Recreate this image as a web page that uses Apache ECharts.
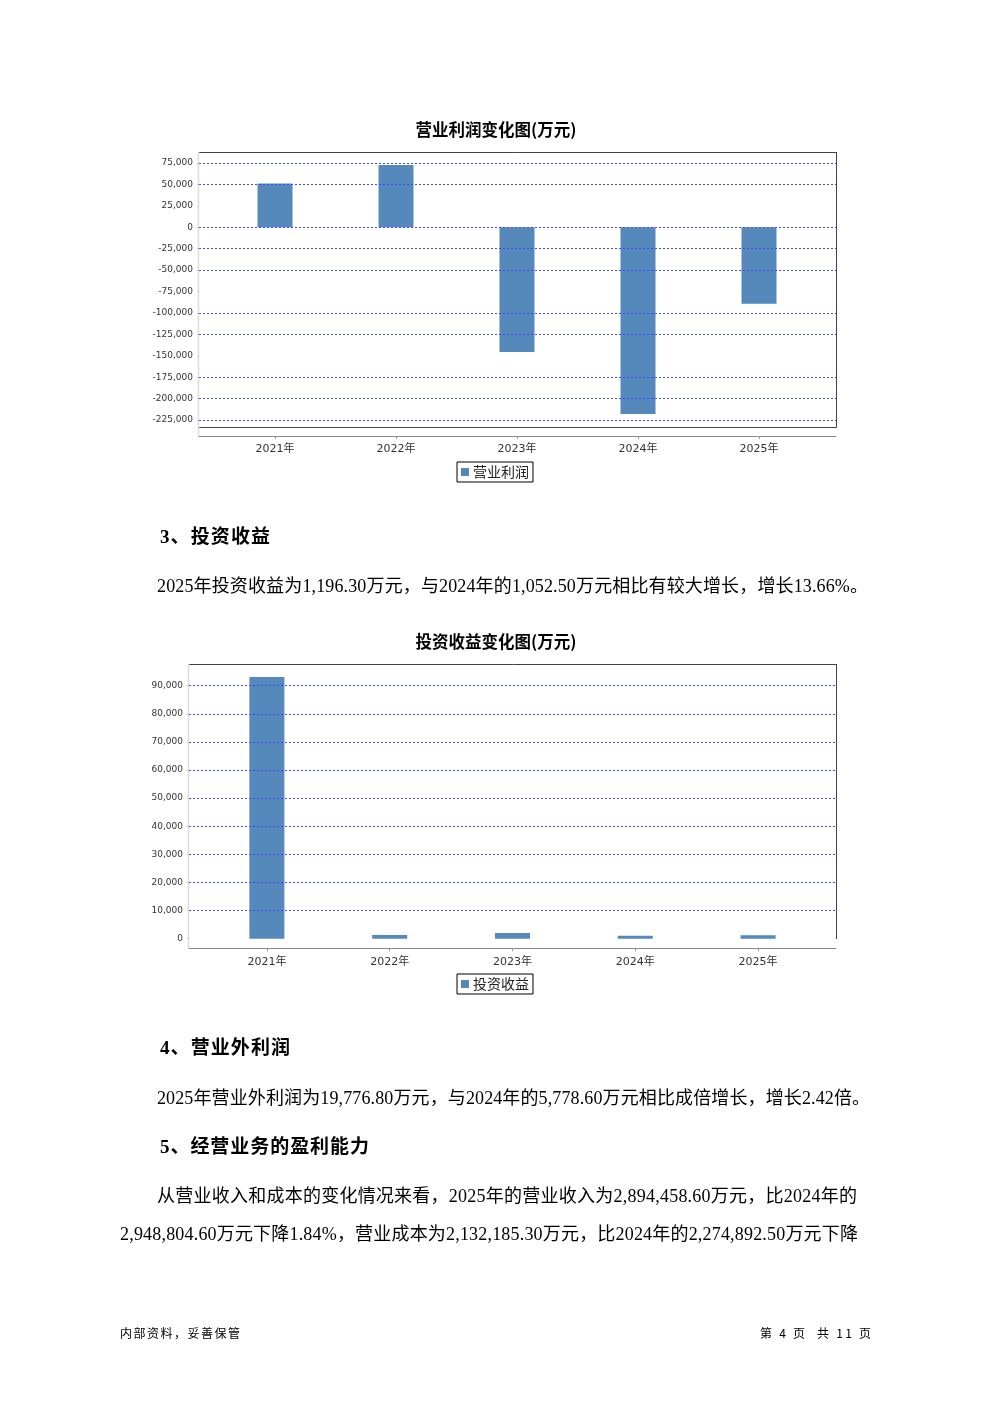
<!DOCTYPE html>
<html>
<head>
<meta charset="utf-8">
<script src="https://cdn.jsdelivr.net/npm/echarts@6/dist/echarts.min.js"></script>
<style>
html,body{margin:0;padding:0;background:#fff;}
#page{position:relative;width:992px;height:1403px;overflow:hidden;background:#fff;}
#chart{position:absolute;left:0;top:0;width:992px;height:1403px;}
.t{position:absolute;white-space:pre;color:#000;font-family:"Liberation Serif","Noto Sans CJK SC",serif;}
.h{font-weight:bold;font-size:19px;}
.b{font-size:18px;}
.f{font-size:12px;font-family:"Noto Sans CJK SC","Liberation Serif",sans-serif;}
</style>
</head>
<body>
<div id="page">
<div id="chart"></div>
</div>
<script>
// ---- data ----
const years = ['2021年', '2022年', '2023年', '2024年', '2025年'];
const profitName = '营业利润';
const profitValues = [51000, 72600, -145700, -218000, -89400];
const profitAxisMin = -225000;
const profitAxisMax = 75000;
const profitAxisStep = 25000;
// dashed grid lines that are visible in the reference
const profitGridValues = [75000, 50000, 0, -25000, -50000, -100000, -125000, -175000, -200000, -225000];
const investName = '投资收益';
const investValues = [93100, 1300, 2000, 1052.5, 1196.3];
const investAxisMin = 0;
const investAxisMax = 90000;
const investAxisStep = 10000;
const investGridValues = [10000, 20000, 30000, 40000, 50000, 60000, 70000, 80000, 90000];
const title1 = '营业利润变化图(万元)';
const title2 = '投资收益变化图(万元)';

// text blocks: [text, class, left, right, centerY]
const texts = [
  ['3、投资收益', 'h', 160, 270, 537],
  ['2025年投资收益为1,196.30万元，与2024年的1,052.50万元相比有较大增长，增长13.66%。', 'b', 157, 868, 586],
  ['4、营业外利润', 'h', 160, 290, 1048],
  ['2025年营业外利润为19,776.80万元，与2024年的5,778.60万元相比成倍增长，增长2.42倍。', 'b', 157, 870, 1098],
  ['5、经营业务的盈利能力', 'h', 160, 369, 1147],
  ['从营业收入和成本的变化情况来看，2025年的营业收入为2,894,458.60万元，比2024年的', 'b', 157, 857, 1196],
  ['2,948,804.60万元下降1.84%，营业成本为2,132,185.30万元，比2024年的2,274,892.50万元下降', 'b', 120, 858, 1234],
  ['内部资料，妥善保管', 'f', 120, 240, 1333],
  ['第 4 页  共 11 页', 'f', 760, 871, 1333]
];

const page = document.getElementById('page');
texts.forEach(function (t) {
  const d = document.createElement('div');
  d.className = 't ' + t[1];
  d.textContent = t[0];
  d.style.left = t[2] + 'px';
  d.style.lineHeight = '24px';
  d.style.height = '24px';
  d.style.top = (t[4] - 12) + 'px';
  page.appendChild(d);
  const natural = d.getBoundingClientRect().width;
  const n = Array.from(t[0]).length;
  const target = t[3] - t[2];
  if (n > 1) d.style.letterSpacing = ((target - natural) / (n - 1)) + 'px';
});

// ---- chart ----
const blue = '#4646f5';
const barColor = '#5589bb';
const labelFont = 'DejaVu Sans';
const cjk = 'Noto Sans CJK SC';

function yAxisShown(grid, min, max, step) {
  return {
    type: 'value', gridIndex: grid, min: min, max: max, interval: step,
    axisLine: { show: false },
    axisTick: { show: true, length: 2, lineStyle: { color: '#c8c8c8' } },
    axisLabel: { fontSize: 9, color: '#333', fontFamily: labelFont, margin: 6 },
    splitLine: { show: false }
  };
}
function yAxisHidden(grid, min, max, step) {
  return { type: 'value', gridIndex: grid, min: min, max: max, interval: step, show: false, splitLine: { show: false } };
}
function xAxisLine(grid, offset) {
  return {
    type: 'category', gridIndex: grid, data: years, offset: offset,
    axisLine: { show: true, onZero: false, lineStyle: { color: '#8a8a8a', width: 1 } },
    axisTick: { show: false }, axisLabel: { show: false }, splitLine: { show: false }
  };
}
function xAxisLabels(grid, offset, margin) {
  return {
    type: 'category', gridIndex: grid, data: years, offset: offset,
    axisLine: { show: false, onZero: false },
    axisTick: { show: true, alignWithLabel: true, length: 3, lineStyle: { color: '#999' } },
    axisLabel: { fontSize: 11, color: '#333', fontFamily: labelFont + ',' + cjk, margin: margin },
    splitLine: { show: false }
  };
}
function legend(name, top) {
  return {
    data: [name], left: 457, top: top, orient: 'horizontal',
    icon: 'rect', itemWidth: 8, itemHeight: 8, itemGap: 0,
    padding: [3, 4, 3, 4], borderColor: '#000', borderWidth: 1, backgroundColor: '#fff',
    textStyle: { fontSize: 14, color: '#222', fontFamily: cjk, padding: [0, 0, 0, -1] },
    selectedMode: false
  };
}
function gridSeries(xi, yi, values) {
  return {
    type: 'line', xAxisIndex: xi, yAxisIndex: yi, data: years.map(function () { return null; }),
    silent: true, symbol: 'none', z: 1,
    markLine: {
      silent: true, symbol: ['none', 'none'], animation: false,
      label: { show: false },
      lineStyle: { color: blue, type: [2, 2], width: 1 },
      emphasis: { disabled: true },
      data: values.map(function (v) { return { yAxis: v }; })
    }
  };
}
function line(x1, y1, x2, y2, color, w) {
  return { type: 'line', silent: true, shape: { x1: x1, y1: y1, x2: x2, y2: y2 }, style: { stroke: color, lineWidth: w } };
}

const option = {
  animation: false,
  backgroundColor: 'rgba(0,0,0,0)',
  title: [
    { text: title1, left: 'center', top: 121, padding: 0, textStyle: { fontSize: 16.5, fontWeight: 'bold', color: '#000', fontFamily: cjk } },
    { text: title2, left: 'center', top: 633, padding: 0, textStyle: { fontSize: 16.5, fontWeight: 'bold', color: '#000', fontFamily: cjk } }
  ],
  legend: [legend(profitName, 462), legend(investName, 974)],
  grid: [
    { left: 199, top: 163, width: 637, height: 257 },
    { left: 214.5, top: 163, width: 605, height: 257 },
    { left: 189, top: 685.7, width: 647, height: 253 },
    { left: 205.5, top: 685.7, width: 614, height: 253 }
  ],
  xAxis: [xAxisLine(0, 16), xAxisLabels(1, 16, 8), xAxisLine(2, 9.6), xAxisLabels(3, 9.6, 8)],
  yAxis: [
    yAxisShown(0, profitAxisMin, profitAxisMax, profitAxisStep),
    yAxisHidden(1, profitAxisMin, profitAxisMax, profitAxisStep),
    yAxisShown(2, investAxisMin, investAxisMax, investAxisStep),
    yAxisHidden(3, investAxisMin, investAxisMax, investAxisStep)
  ],
  series: [
    gridSeries(0, 0, profitGridValues),
    gridSeries(2, 2, investGridValues),
    { name: profitName, type: 'bar', xAxisIndex: 1, yAxisIndex: 1, data: profitValues, barWidth: 35,
      clip: false, itemStyle: { color: barColor }, z: 3 },
    { name: investName, type: 'bar', xAxisIndex: 3, yAxisIndex: 3, data: investValues, barWidth: 35,
      clip: false, itemStyle: { color: barColor }, z: 3 }
  ],
  graphic: [
    // chart 1 frame
    line(199, 152.5, 836.5, 152.5, '#444', 1),
    line(836.5, 152, 836.5, 427.5, '#444', 1),
    line(199, 427.5, 836.5, 427.5, '#444', 1),
    line(198.5, 152, 198.5, 436.5, '#dcdcdc', 1.5),
    // chart 2 frame
    line(189, 664.5, 836.5, 664.5, '#444', 1),
    line(836.5, 664, 836.5, 939, '#444', 1),
    line(188.5, 664, 188.5, 948.5, '#dcdcdc', 1.5)
  ]
};

const chart = echarts.init(document.getElementById('chart'), null, { renderer: 'canvas', width: 992, height: 1403 });
chart.setOption(option);
</script>
</body>
</html>
